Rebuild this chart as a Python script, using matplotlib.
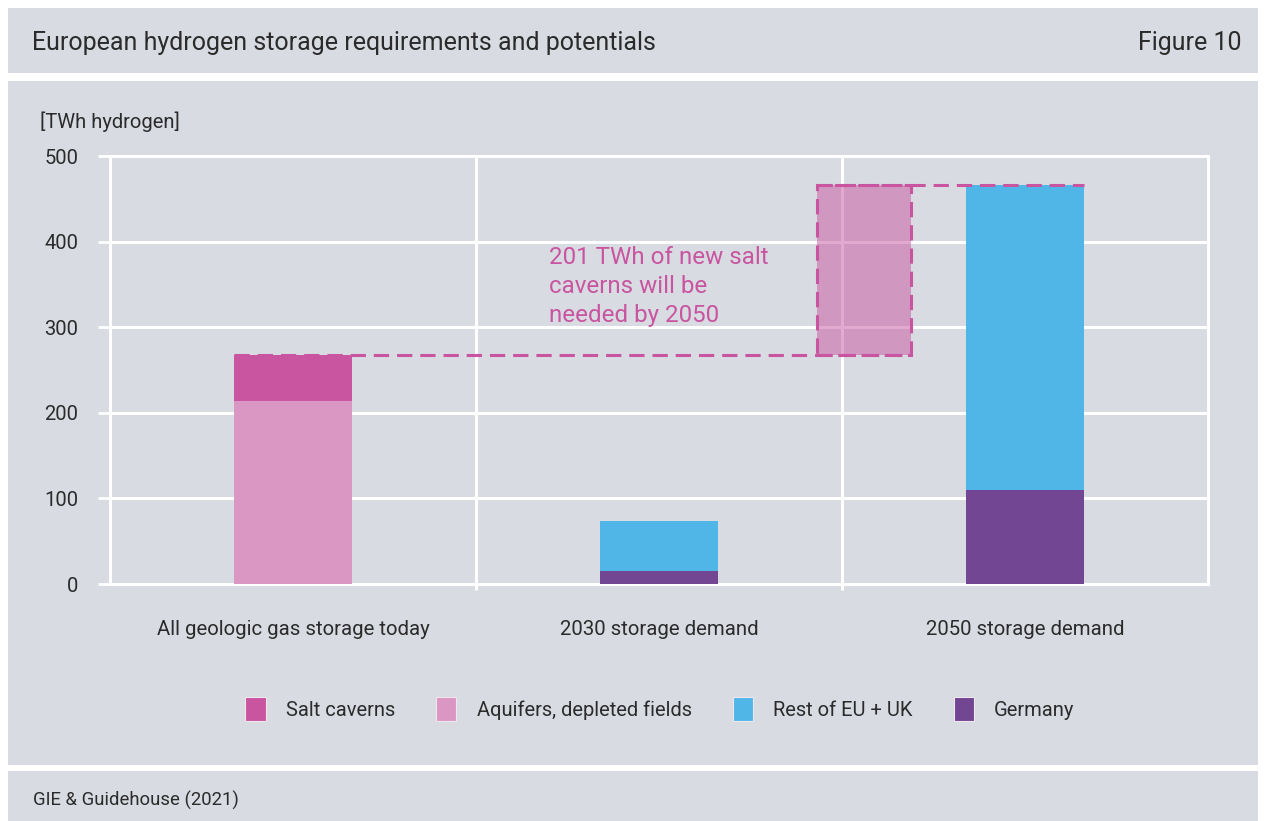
import matplotlib
matplotlib.use("Agg")
import matplotlib.pyplot as plt
from matplotlib.patches import Rectangle, Patch
import numpy as np

plt.rcParams['font.family'] = ['Roboto', 'DejaVu Sans']

categories = ["All geologic gas storage today", "2030 storage demand", "2050 storage demand"]
salt_caverns = [53, 0, 0]
aquifers = [214, 0, 0]
germany = [0, 15, 110]
rest_eu_uk = [0, 59, 356]
yticks = [0, 100, 200, 300, 400, 500]
annotation = "201 TWh of new salt\ncaverns will be\nneeded by 2050"

C_SALT = "#c955a0"
C_AQ = "#db97c3"
C_REST = "#50b6e8"
C_GER = "#734694"
BG = "#d8dbe2"
TXT = "#2b2b2b"

W, H = 1266, 821
fig = plt.figure(figsize=(W/100, H/100), dpi=100)
fig.patch.set_facecolor("white")

def panel(x0, y0, x1, y1):
    fig.patches.append(Rectangle((x0/W, 1-y1/H), (x1-x0)/W, (y1-y0)/H,
                                 transform=fig.transFigure, facecolor=BG,
                                 edgecolor="none", zorder=-5))
panel(8, 8, 1258, 73)
panel(8, 81, 1258, 765)
panel(8, 771, 1258, 821)

fig.text(32/W, 1-43/H, "European hydrogen storage requirements and potentials",
         fontsize=18, color=TXT, va="center", ha="left")
fig.text(1242/W, 1-43/H, "Figure 10", fontsize=18, color=TXT, va="center", ha="right")
fig.text(33/W, 1-800/H, "GIE & Guidehouse (2021)", fontsize=13.3, color=TXT,
         va="center", ha="left")
fig.text(40/W, 1-122/H, "[TWh hydrogen]", fontsize=14.5, color=TXT, va="center", ha="left")

ax = fig.add_axes([110/W, 1-584/H, (1208-110)/W, (584-156)/H])
ax.set_zorder(2)
ax.patch.set_alpha(0)
ax.set_xlim(-0.5, 2.5)
ax.set_ylim(0, 500)
for s in ax.spines.values():
    s.set_visible(False)

x = np.arange(len(categories))
bw = 0.322
ax.set_yticks(yticks)
ax.set_yticklabels([str(t) for t in yticks], fontsize=14.5, color=TXT)
ax.tick_params(axis="y", length=9, width=2, color="white", pad=14)
ax.tick_params(axis="x", length=0, pad=26)
ax.set_xticks(x)
ax.set_xticklabels(categories, fontsize=14.7, color=TXT)
for t in yticks:
    ax.axhline(t, color="white", lw=2.2, zorder=1, clip_on=False)
for xv in [-0.5, 0.5, 1.5, 2.5]:
    ymin = -7 if xv in (0.5, 1.5) else 0
    ax.plot([xv, xv], [ymin, 500], color="white", lw=2.2, zorder=1,
            clip_on=False, solid_capstyle="butt")

aq = np.array(aquifers)
ger = np.array(germany)
ax.bar(x, aquifers, bw, color=C_AQ, zorder=3)
ax.bar(x, salt_caverns, bw, bottom=aq, color=C_SALT, zorder=3)
ax.bar(x, germany, bw, color=C_GER, zorder=3)
ax.bar(x, rest_eu_uk, bw, bottom=ger, color=C_REST, zorder=3)

today_total = aquifers[0] + salt_caverns[0]
total_2050 = germany[2] + rest_eu_uk[2]
bx0, bx1 = 1.432, 1.689
dash = (0, (5, 2.6))
ax.add_patch(Rectangle((bx0, today_total), bx1-bx0, total_2050-today_total,
                       facecolor=C_SALT, alpha=0.5, edgecolor="none", zorder=4))
ax.add_patch(Rectangle((bx0, today_total), bx1-bx0, total_2050-today_total,
                       facecolor="none", edgecolor=C_SALT, lw=2.2,
                       linestyle=dash, zorder=5))
ax.plot([x[0]-bw/2, bx1], [today_total, today_total], color=C_SALT, lw=2.2,
        linestyle=dash, zorder=2.5)
ax.plot([bx0, x[2]+bw/2], [total_2050, total_2050], color=C_SALT, lw=2.2,
        linestyle=dash, zorder=5)

ax.text(0.70, 395, annotation, color=C_SALT, fontsize=17.4, va="top", ha="left",
        linespacing=1.33, zorder=6)

handles = [Patch(facecolor=C_SALT, edgecolor="#f0e6ee", lw=0.8, label="Salt caverns"),
           Patch(facecolor=C_AQ, edgecolor="#f0e6ee", lw=0.8, label="Aquifers, depleted fields"),
           Patch(facecolor=C_REST, edgecolor="#f0e6ee", lw=0.8, label="Rest of EU + UK"),
           Patch(facecolor=C_GER, edgecolor="#f0e6ee", lw=0.8, label="Germany")]
fig.legend(handles=handles, loc="center", bbox_to_anchor=(660/W, 1-709/H), ncol=4,
           frameon=False, fontsize=14.5, handlelength=1.0, handleheight=1.4,
           handletextpad=1.0, columnspacing=2.05, labelcolor=TXT)

fig.savefig("out.png", dpi=100, facecolor=fig.get_facecolor())
